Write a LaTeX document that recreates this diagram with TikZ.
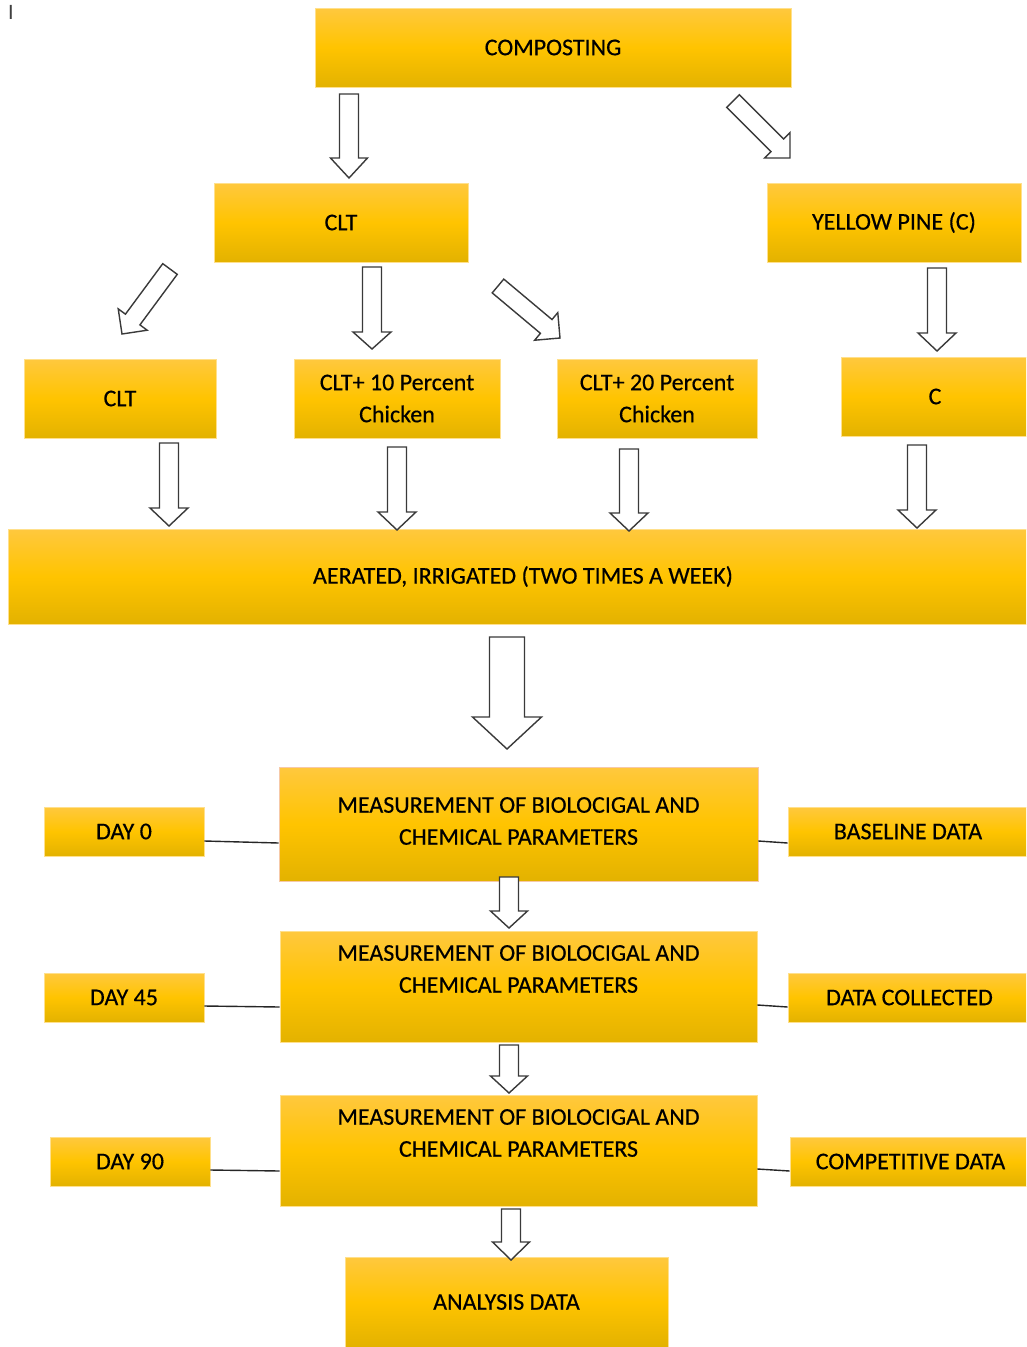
\documentclass[tikz,border=0pt]{standalone}
\usepackage{fontspec}
\setmainfont{Carlito}
\newfontfamily\boxface[FakeBold=0.4]{Carlito}
\usetikzlibrary{calc}
\definecolor{gtop}{HTML}{FFC83E}
\definecolor{gmid}{HTML}{FFC400}
\definecolor{gbot}{HTML}{E3B200}
\definecolor{gedge}{HTML}{FFE08C}
\definecolor{pedge}{HTML}{F6C9A8}
\definecolor{arrline}{HTML}{3A3A3A}
\newcommand{\boxfont}{\boxface\fontsize{24}{32}\selectfont}
\newcommand{\blockarr}[5]{%
  \coordinate (bac) at ($(#2)!#5!(#1)$);
  \draw[blk] ($(#1)!#3!90:(#2)$) -- ($(bac)!#3!90:(#2)$) -- ($(bac)!#4!90:(#2)$) -- (#2)
    -- ($(bac)!#4!-90:(#2)$) -- ($(bac)!#3!-90:(#2)$) -- ($(#1)!#3!-90:(#2)$) -- cycle;}
\tikzset{
  gbox/.style={rectangle, inner sep=0pt, top color=gtop, bottom color=gbot, middle color=gmid,
    draw=gedge, line width=0.8pt, align=center, font=\boxfont, text=black},
  blk/.style={draw=arrline, fill=white, line width=1.4pt, line join=miter},
  conn/.style={draw=black!85, line width=1.4pt},
  txt/.style={align=center, font=\boxfont, text=black, inner sep=0pt}
}
\begin{document}
\begin{tikzpicture}[x=1pt,y=-1pt]
\useasboundingbox (0,0) rectangle (1026,1347);
\fill[white] (0,0) rectangle (1026,1347);
\clip (0,0) rectangle (1026,1347);

\node[font=\fontsize{22}{24}\selectfont, text=black!75, inner sep=0pt] (cursor) at (11,12) {I};

% boxes
\node[gbox, minimum width=476pt, minimum height=79pt] (compost) at (553,47.5) {COMPOSTING};
\node[gbox, minimum width=254pt, minimum height=79pt] (clt) at (341,222.5) {CLT};
\node[gbox, minimum width=254pt, minimum height=79pt] (yp) at (894,222.5) {YELLOW PINE (C)};
\node[gbox, minimum width=192pt, minimum height=79pt] (cltl) at (120,398.5) {CLT};
\node[gbox, minimum width=206pt, minimum height=79pt] (clt10) at (397,398.5) {CLT+ 10 Percent\\Chicken};
\node[gbox, minimum width=200pt, minimum height=79pt] (clt20) at (657,398.5) {CLT+ 20 Percent\\Chicken};
\node[gbox, minimum width=188pt, minimum height=79pt] (cc) at (935,396.5) {C};
\node[gbox, minimum width=1030pt, minimum height=95pt] (aer) at (523,576.5) {AERATED, IRRIGATED (TWO TIMES A WEEK)};

\node[gbox, draw=pedge, minimum width=479pt, minimum height=114pt] (m1) at (518.5,824) {};
\node[txt] (m1t) at (518.5,821) {MEASUREMENT OF BIOLOCIGAL AND\\CHEMICAL PARAMETERS};
\node[gbox, minimum width=477pt, minimum height=111pt] (m2) at (518.5,986.5) {};
\node[txt] (m2t) at (518.5,969) {MEASUREMENT OF BIOLOCIGAL AND\\CHEMICAL PARAMETERS};
\node[gbox, minimum width=477pt, minimum height=111pt] (m3) at (518.5,1150.5) {};
\node[txt] (m3t) at (518.5,1133) {MEASUREMENT OF BIOLOCIGAL AND\\CHEMICAL PARAMETERS};

\node[gbox, minimum width=160pt, minimum height=49pt] (day0) at (124,831.5) {DAY 0};
\node[gbox, minimum width=240pt, minimum height=49pt] (base) at (908,831.5) {BASELINE DATA};
\node[gbox, minimum width=160pt, minimum height=49pt] (day45) at (124,997.5) {DAY 45};
\node[gbox, minimum width=243pt, minimum height=49pt] (dc) at (909.5,997.5) {DATA COLLECTED};
\node[gbox, minimum width=160pt, minimum height=49pt] (day90) at (130,1161.5) {DAY 90};
\node[gbox, minimum width=241pt, minimum height=49pt] (comp) at (910.5,1161.5) {COMPETITIVE DATA};
\node[gbox, minimum width=323pt, minimum height=90pt] (ana) at (506.5,1302) {ANALYSIS DATA};

% connector lines
\draw[conn] ([yshift=-9.5pt]day0.east) -- ([yshift=-19pt]m1.west);
\draw[conn] ([yshift=-17pt]m1.east) -- ([yshift=-11.5pt]base.west);
\draw[conn] ([yshift=-8.5pt]day45.east) -- ([yshift=-20.5pt]m2.west);
\draw[conn] ([yshift=-18.5pt]m2.east) -- ([yshift=-9.5pt]dc.west);
\draw[conn] ([yshift=-8.5pt]day90.east) -- ([yshift=-20.5pt]m3.west);
\draw[conn] ([yshift=-18.5pt]m3.east) -- ([yshift=-9.5pt]comp.west);

% block arrows
\blockarr{349,94}{349,178}{9.5pt}{18.5pt}{20pt}
\blockarr{733,101}{790,158}{9pt}{18pt}{18pt}
\blockarr{170,269}{122,334}{9pt}{18pt}{18pt}
\blockarr{372,267}{372,349}{9.5pt}{19pt}{17pt}
\blockarr{498,286}{560,338}{9pt}{18pt}{18pt}
\blockarr{937,268}{937,351}{9.5pt}{19pt}{18pt}
\blockarr{169,443}{169,526}{9.5pt}{19pt}{18pt}
\blockarr{397,447}{397,530}{9.5pt}{19pt}{18pt}
\blockarr{629,449}{629,531}{9.5pt}{19pt}{18pt}
\blockarr{917,445}{917,528}{9.5pt}{19pt}{18pt}
\blockarr{507,637}{507,749}{17.5pt}{34.5pt}{32pt}
\blockarr{509,877}{509,928}{9.5pt}{18.5pt}{17pt}
\blockarr{509,1045}{509,1093}{9.5pt}{18.5pt}{17pt}
\blockarr{511,1209}{511,1260}{9.5pt}{18.5pt}{18pt}
\end{tikzpicture}
\end{document}
